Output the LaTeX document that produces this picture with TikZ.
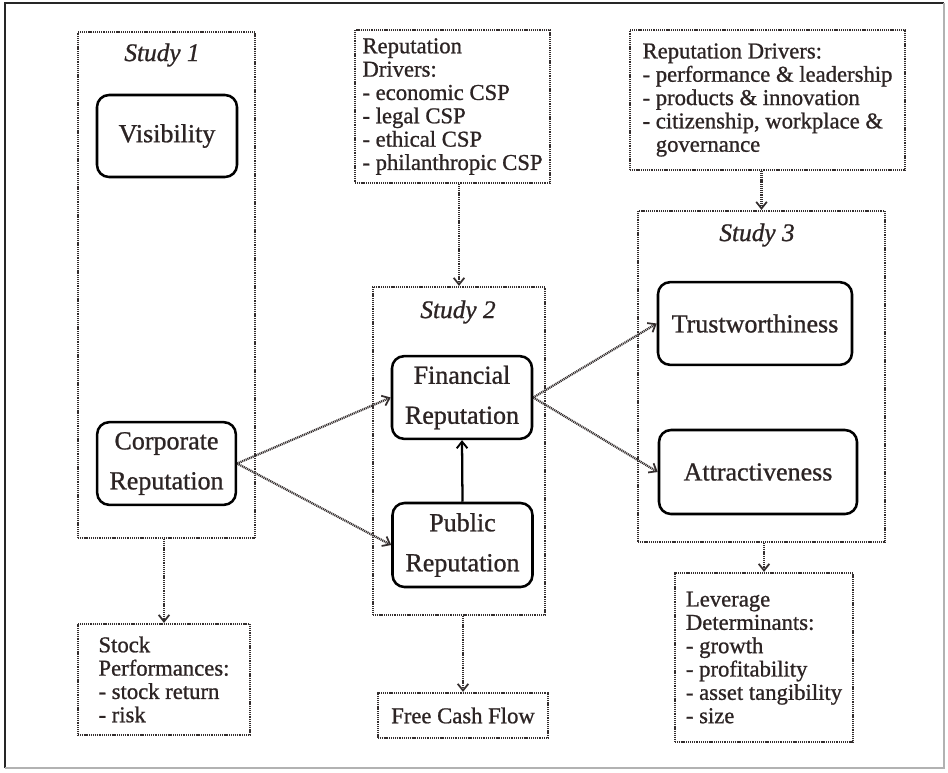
\documentclass[tikz,border=0pt]{standalone}
\usepackage{fontspec}
\setmainfont{Liberation Serif}[FakeBold=0.9]
\usetikzlibrary{arrows.meta,calc}

\definecolor{ink}{RGB}{44,36,36}
\definecolor{dotc}{RGB}{52,46,46}

\newcommand\conceptfont{\fontsize{19.5}{30}\selectfont}
\newcommand\notefont{\fontsize{17}{17.5}\selectfont}
\newcommand\studyfont{\fontsize{19}{22}\selectfont\itshape}

\begin{document}
\begin{tikzpicture}[x=0.75pt,y=-0.75pt,
  dotline/.style={draw=dotc, line width=1.7pt, dash pattern=on 0.8pt off 0.6pt},
  studybox/.style={dotline, inner sep=0pt},
  studylabel/.style={font=\studyfont, text=ink, inner sep=0pt},
  notebox/.style={dotline, align=left, text=ink, font=\notefont, inner sep=0pt},
  concept/.style={draw=black, line width=1.9pt, rounded corners=9pt, align=center,
                  text=ink, font=\conceptfont, inner sep=0pt},
  flow/.style={dotline, -{Straight Barb[length=5pt,width=8pt,line width=1.3pt]}},
  link/.style={draw=black, line width=1.7pt, -{Straight Barb[length=5pt,width=8pt,line width=1.4pt]}}
]
\useasboundingbox (0,0) rectangle (948,772);
\fill[white] (0,0) rectangle (948,772);

% outer frame
\draw[black!85, line width=1.4pt] (5,768) -- (5,3) -- (944,3);
\draw[black!30, line width=1pt] (944,3) -- (944,768) -- (5,768);

% Study 1
\node[studybox, minimum width=132.75pt, minimum height=379.5pt] (s1) at (166.5,285) {};
\node[studylabel] (s1t) at (162,55) {Study 1};
\node[concept, minimum width=105pt, minimum height=61.5pt] (vis) at (167,136) {Visibility};
\node[concept, minimum width=104pt, minimum height=62pt] (corp) at (166.5,463.5) {Corporate\\Reputation};

% Study 2
\node[studybox, minimum width=129pt, minimum height=246pt] (s2) at (459,451) {};
\node[studylabel] (s2t) at (458,312) {Study 2};
\node[concept, minimum width=105pt, minimum height=62pt] (fin) at (462,397.5) {Financial\\Reputation};
\node[concept, minimum width=105pt, minimum height=63pt] (pub) at (462.5,545) {Public\\Reputation};

% Study 3
\node[studybox, minimum width=185.25pt, minimum height=248.25pt] (s3) at (761.5,376.5) {};
\node[studylabel] (s3t) at (757,235) {Study 3};
\node[concept, minimum width=145.5pt, minimum height=62pt] (trust) at (755,323.5) {Trustworthiness};
\node[concept, minimum width=148.5pt, minimum height=63pt] (attr) at (758,472) {Attractiveness};

% drivers, outcomes and determinants
\node[notebox, minimum width=146.25pt, minimum height=114.75pt] (drvA) at (452.5,106.5)
  {Reputation\\Drivers:\\- economic CSP\\- legal CSP\\- ethical CSP\\- philanthropic CSP};
\node[notebox, minimum width=206.25pt, minimum height=105pt] (drvB) at (767.5,100)
  {Reputation Drivers:\\- performance \& leadership\\- products \& innovation\\- citizenship, workplace \&\\\hphantom{-\ }governance};
\node[notebox, minimum width=129pt, minimum height=83.25pt] (stock) at (164,679.5)
  {Stock\\Performances:\\- stock return\\- risk};
\node[notebox, minimum width=127.5pt, minimum height=33.75pt] (fcf) at (463,715.5)
  {Free Cash Flow};
\node[notebox, minimum width=133.5pt, minimum height=126.75pt] (lev) at (764,657.5)
  {Leverage\\Determinants:\\- growth\\- profitability\\- asset tangibility\\- size};

% connectors
\draw[flow] (corp.east) -- (fin.west);
\draw[flow] (corp.east) -- (pub.west);
\draw[flow] (fin.east) -- (trust.west);
\draw[flow] (fin.east) -- (attr.west);
\draw[link] (pub.north) -- (fin.south);
\draw[flow] (s2.north |- drvA.south) -- (s2.north);
\draw[flow] (stock.north |- s1.south) -- (stock.north);
\draw[flow] (fcf.north |- s2.south) -- (fcf.north);
\draw[flow] (s3.north |- drvB.south) -- (s3.north);
\draw[flow] (lev.north |- s3.south) -- (lev.north);
\end{tikzpicture}
\end{document}
